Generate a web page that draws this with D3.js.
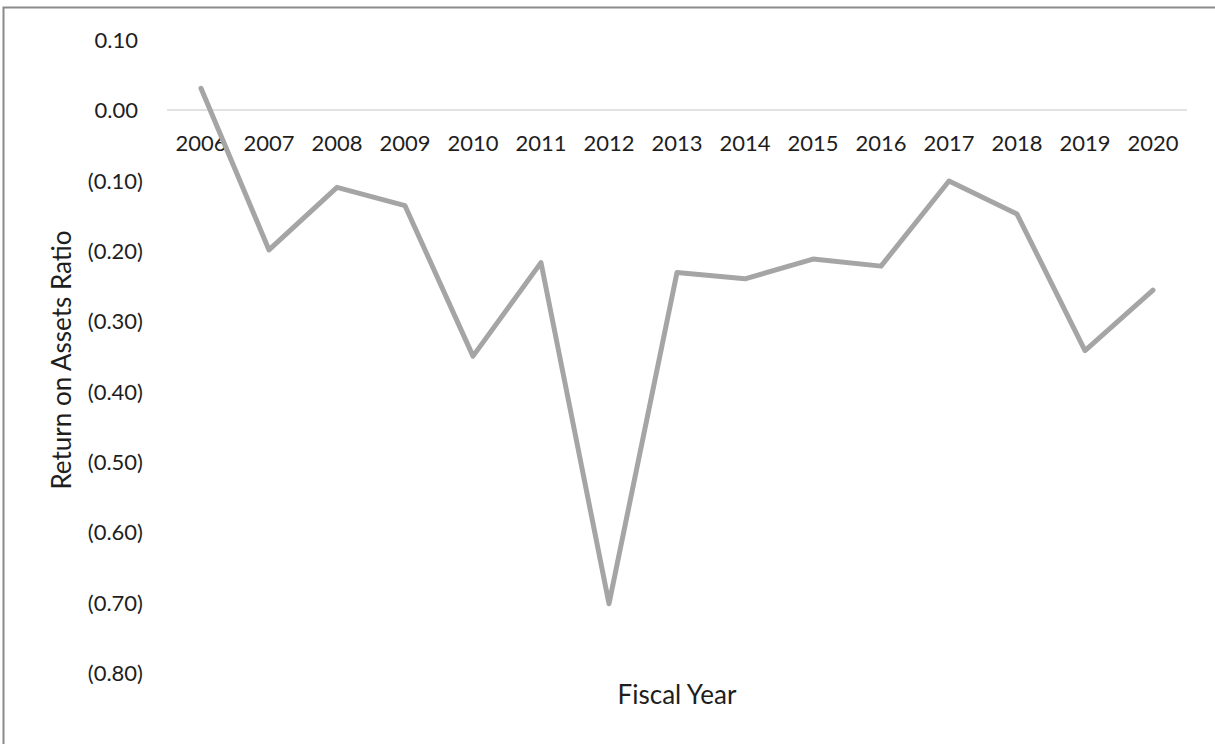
<!DOCTYPE html>
<html><head><meta charset="utf-8">
<script src="https://cdn.jsdelivr.net/npm/d3@7"></script>
<style>body{margin:0;background:#fff}svg{display:block}text{font-family:Lato,"Open Sans",sans-serif;fill:#1e1e1e}</style>
</head><body><svg id="c" width="1215" height="744"></svg>
<script>
const years = ["2006","2007","2008","2009","2010","2011","2012","2013","2014","2015","2016","2017","2018","2019","2020"];
const roa = [0.031,-0.199,-0.110,-0.136,-0.350,-0.217,-0.702,-0.231,-0.240,-0.212,-0.222,-0.101,-0.148,-0.342,-0.256];
const yTicks = [0.1,0,-0.1,-0.2,-0.3,-0.4,-0.5,-0.6,-0.7,-0.8];

const svg = d3.select("#c");
svg.append("rect").attr("x",3.5).attr("y",7.5).attr("width",1230).attr("height",760)
  .attr("fill","#fff").attr("stroke","#8a8a8a").attr("stroke-width",2);

const x = d3.scaleBand().domain(years).range([167,1187]);
const y = d3.scaleLinear().domain([-0.8,0.1]).range([672.6,39.7]);
const fmt = v => v < 0 ? "(" + d3.format(".2f")(-v) + ")" : d3.format(".2f")(v);

// y axis labels
const ya = svg.append("g").attr("transform","translate(143,0)")
  .call(d3.axisLeft(y).tickValues(yTicks).tickFormat(fmt).tickSize(0).tickPadding(0));
ya.select(".domain").remove();
ya.selectAll("text").attr("font-size",22).attr("fill","#1e1e1e").attr("font-family","Lato,'Open Sans',sans-serif")
  .attr("dy","0.36em").attr("x", d => d >= 0 ? -5 : 0);

// zero line
svg.append("line").attr("x1",167).attr("x2",1187).attr("y1",y(0)).attr("y2",y(0))
  .attr("stroke","#d9d9d9").attr("stroke-width",1.5);

// x axis labels
const xa = svg.append("g").attr("transform","translate(0,"+y(0)+")")
  .call(d3.axisBottom(x).tickSize(0).tickPadding(0));
xa.select(".domain").remove();
xa.selectAll("text").attr("font-size",22).attr("fill","#1e1e1e").attr("font-family","Lato,'Open Sans',sans-serif").attr("dy",0).attr("y",41);

// line
const data = years.map((yr,i)=>({yr, v: roa[i]}));
svg.append("path").datum(data)
  .attr("d", d3.line().x(d=>x(d.yr)+x.bandwidth()/2).y(d=>y(d.v)))
  .attr("fill","none").attr("stroke","#a5a5a5").attr("stroke-width",5)
  .attr("stroke-linejoin","round").attr("stroke-linecap","round");

// titles
svg.append("text").attr("transform","translate(71,360) rotate(-90)").attr("text-anchor","middle")
  .attr("font-size",26).text("Return on Assets Ratio");
svg.append("text").attr("x",677).attr("y",704).attr("text-anchor","middle")
  .attr("font-size",26).text("Fiscal Year");
</script></body></html>
